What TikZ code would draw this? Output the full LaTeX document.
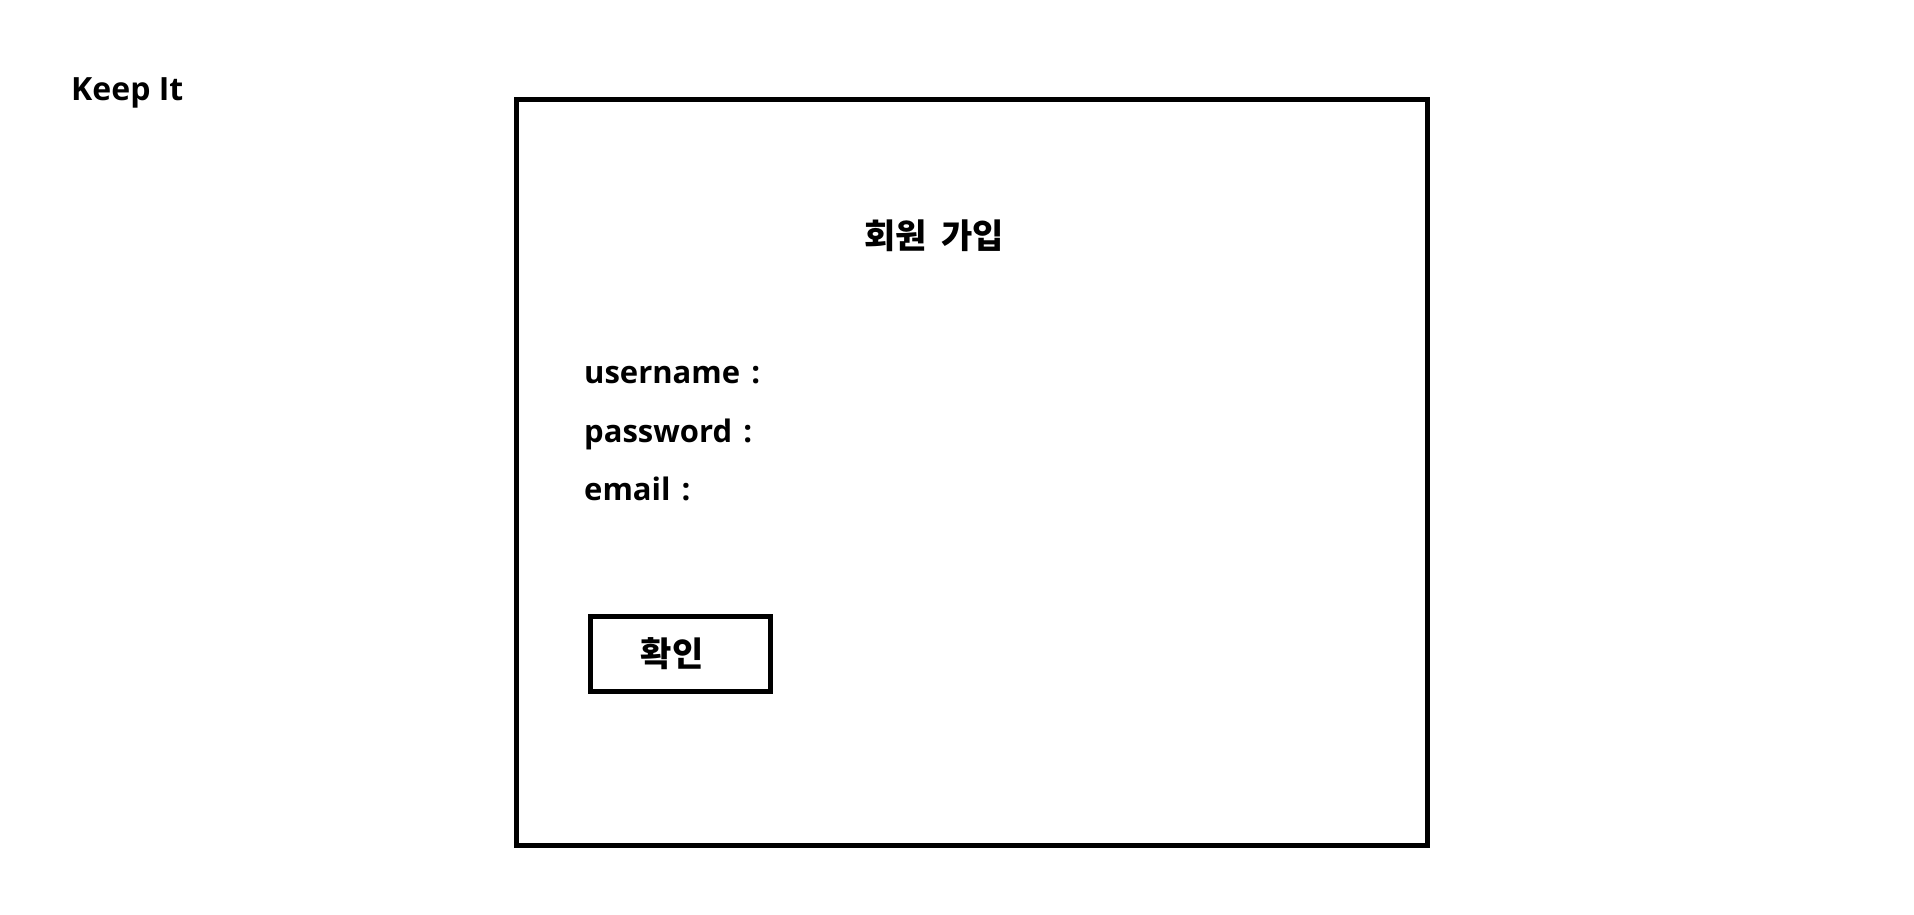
\documentclass[tikz,border=0pt]{standalone}
\usepackage{fontspec}
\setmainfont{Open Sans}
\newfontfamily\krfont{Noto Sans CJK KR}
\begin{document}
\begin{tikzpicture}[x=1pt,y=-1pt,
    label/.style={anchor=base west,inner sep=0pt,font=\fontsize{31}{36}\selectfont\bfseries},
    krlabel/.style={inner sep=0pt,font=\krfont\fontsize{34}{40}\selectfont\bfseries},
    frame/.style={draw,line width=5pt,inner sep=0pt}]
    \useasboundingbox (0,0) rectangle (1914,914);
    
    % app name
    \node [label,font=\fontsize{32}{38}\selectfont\bfseries] (app) at (71,100) {Keep It};
    
    % sign-up form
    \node [frame,minimum width=911pt,minimum height=746pt] (form) at (971.5,472) {};
    \node [krlabel,anchor=base west] (title) at (864,248) {회원\hspace{0.2em} 가입};
    
    % fields
    \node [label] (user) at (584,383) {username\hspace{0.1em} :};
    \node [label] (pass) at (584,442) {password\hspace{0.1em} :};
    \node [label] (mail) at (584,500) {email\hspace{0.1em} :};
    
    % confirm button
    \node [frame,krlabel,minimum width=180pt,minimum height=75pt] (ok) at (680,653.5) {확인\kern16pt};
\end{tikzpicture}
\end{document}
